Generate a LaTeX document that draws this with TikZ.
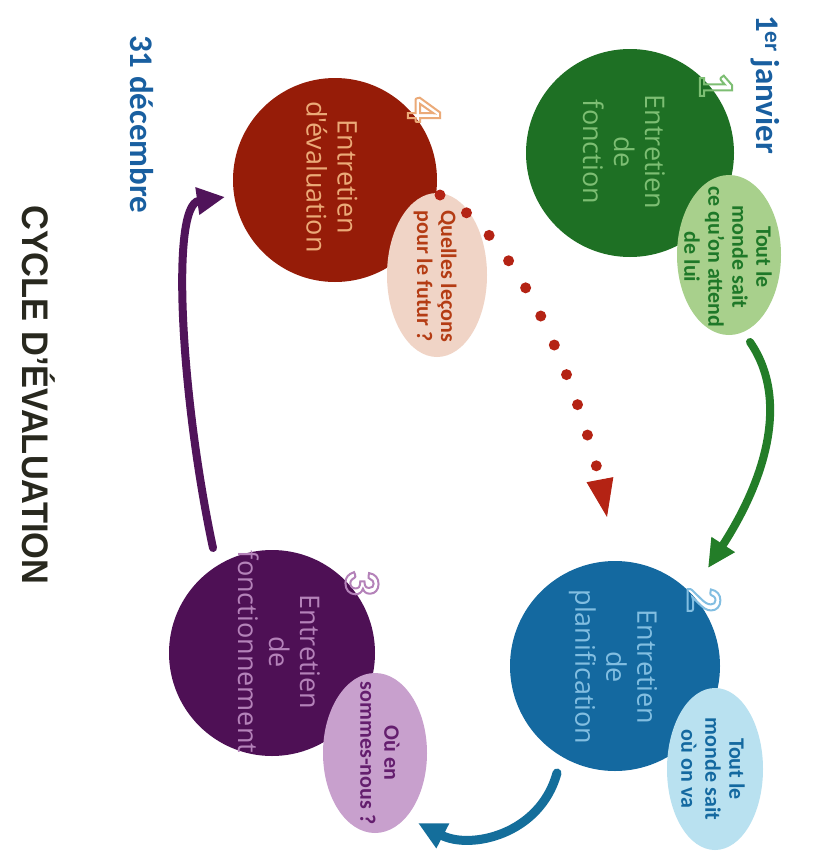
\documentclass[tikz,border=0pt]{standalone}
\usepackage{fontspec}
\setmainfont{Carlito}
\newfontfamily\circfont{Open Sans}
\newfontfamily\titlefont{Liberation Sans}
\usetikzlibrary{arrows.meta,shapes.geometric,calc}

\definecolor{gDark}{RGB}{30,112,36}
\definecolor{gText}{RGB}{125,190,115}
\definecolor{gLight}{RGB}{168,208,140}
\definecolor{gInk}{RGB}{30,120,40}
\definecolor{gArrow}{RGB}{35,125,40}
\definecolor{bDark}{RGB}{20,105,160}
\definecolor{bText}{RGB}{130,190,225}
\definecolor{bLight}{RGB}{185,225,240}
\definecolor{bInk}{RGB}{20,105,160}
\definecolor{bArrow}{RGB}{20,110,155}
\definecolor{pDark}{RGB}{78,16,85}
\definecolor{pText}{RGB}{180,130,185}
\definecolor{pLight}{RGB}{200,160,205}
\definecolor{pInk}{RGB}{100,30,110}
\definecolor{pArrow}{RGB}{80,20,90}
\definecolor{rDark}{RGB}{150,28,8}
\definecolor{rText}{RGB}{235,170,120}
\definecolor{rLight}{RGB}{240,212,198}
\definecolor{rInk}{RGB}{180,60,20}
\definecolor{rDots}{RGB}{180,35,20}
\definecolor{dateBlue}{RGB}{25,95,160}
\definecolor{titleInk}{RGB}{40,40,30}

\newcommand\outlinedigit[1]{\special{pdf:literal direct 1 Tr 2 w}#1\special{pdf:literal direct 0 Tr}}

\tikzset{
  bubble/.style={circle, inner sep=0pt, minimum size=#1},
  callout/.style={ellipse, inner sep=0pt, rotate=-90},
  ctext/.style={rotate=-90, align=center, inner sep=0pt, font=\circfont\fontsize{27}{31}\selectfont},
  etext/.style={rotate=-90, align=center, inner sep=0pt, font=\bfseries\fontsize{22}{24}\selectfont},
  digit/.style={rotate=-90, inner sep=0pt, font=\bfseries\fontsize{50}{50}\selectfont},
  datelabel/.style={rotate=-90, anchor=base west, inner sep=0pt, text=dateBlue, font=\bfseries\fontsize{33}{36}\selectfont},
  flow/.style={line width=8pt, line cap=round},
  tipbig/.style={-{Triangle[length=28pt,width=26pt]}},
}

\begin{document}
\begin{tikzpicture}[x=1pt,y=-1pt]
\useasboundingbox (0,0) rectangle (823,852);
\fill[white] (0,0) rectangle (823,852);

% circles
\node[bubble=208pt, fill=gDark] (c1) at (630,153) {};
\node[bubble=210pt, fill=bDark] (c2) at (615,666) {};
\node[bubble=206pt, fill=pDark] (c3) at (272,653) {};
\node[bubble=204pt, fill=rDark] (c4) at (335,180) {};

% circle texts
\node[ctext, text=gText] (t1) at (624,152) {Entretien\\de\\fonction};
\node[ctext, text=bText] (t2) at (613,667) {Entretien\\de\\planification};
\node[ctext, text=pText] (t3) at (279,652) {Entretien\\de\\fonctionnement};
\node[ctext, text=rText] (t4) at (332,177) {Entretien\\d'évaluation};

% digits
\node[digit, text=gText] (n1) at (716,85) {\outlinedigit{1}};
\node[digit, text=bText] (n2) at (704,600) {\outlinedigit{2}};
\node[digit, text=pText] (n3) at (362,583) {\outlinedigit{3}};
\node[digit, text=rText] (n4) at (424,110) {\outlinedigit{4}};

% callouts
\node[callout, fill=gLight, minimum width=160pt, minimum height=104pt] (e1) at (729,255) {};
\node[callout, fill=bLight, minimum width=162pt, minimum height=96pt] (e2) at (715,769) {};
\node[callout, fill=pLight, minimum width=160pt, minimum height=104pt] (e3) at (375,753) {};
\node[callout, fill=rLight, minimum width=164pt, minimum height=100pt] (e4) at (437,275) {};

\node[etext, text=gInk] (s1) at (728,257) {Tout le\\monde sait\\ce qu'on attend\\de lui};
\node[etext, text=bInk] (s2) at (713,769) {Tout le\\monde sait\\où on va};
\node[etext, text=pInk] (s3) at (380,753) {Où en\\sommes-nous ?};
\node[etext, text=rInk] (s4) at (435,276) {Quelles leçons\\pour le futur ?};

% dates and title
\node[datelabel] (d1) at (756,15) {1\textsuperscript{er} janvier};
\node[datelabel] (d2) at (130,35) {31 décembre};
\node[rotate=-90, anchor=base west, xscale=0.93, inner sep=0pt, text=titleInk,
      font=\titlefont\bfseries\fontsize{37}{40}\selectfont] (title) at (22,205) {CYCLE D’ÉVALUATION};

% connectors
\coordinate (g0) at ($(e1.center)+(21,87)$);
\coordinate (g1) at ($(c2.center)+(93,-98)$);
\draw[flow, gArrow, tipbig] (g0) .. controls +(40,58) and +(57,-88) .. (g1);

\coordinate (b0) at ($(c2.center)+(-58,107)$);
\coordinate (b1) at ($(e3.center)+(43,70)$);
\draw[flow, bArrow, line width=9pt, tipbig] (b0) .. controls +(-17,62) and +(52,27) .. (b1);

\coordinate (p0) at ($(c3.center)+(-59,-105)$);
\coordinate (p1) at ($(c4.center)+(-110,17)$);
\draw[flow, pArrow, tipbig] (p0) .. controls +(-32,-150) and +(-55,8) .. (p1);

\coordinate (r0) at ($(c4.center)+(105,15)$);
\coordinate (r1) at (600,480);
\coordinate (r2) at (607,517);
\draw[rDots, line width=11pt, line cap=round, dash pattern=on 0pt off 32pt]
  (r0) .. controls +(80,40) and +(-24,-96) .. (r1);
\draw[rDots, line width=1pt, -{Triangle[length=38pt,width=27pt]}] (r1) -- (r2);
\end{tikzpicture}
\end{document}
